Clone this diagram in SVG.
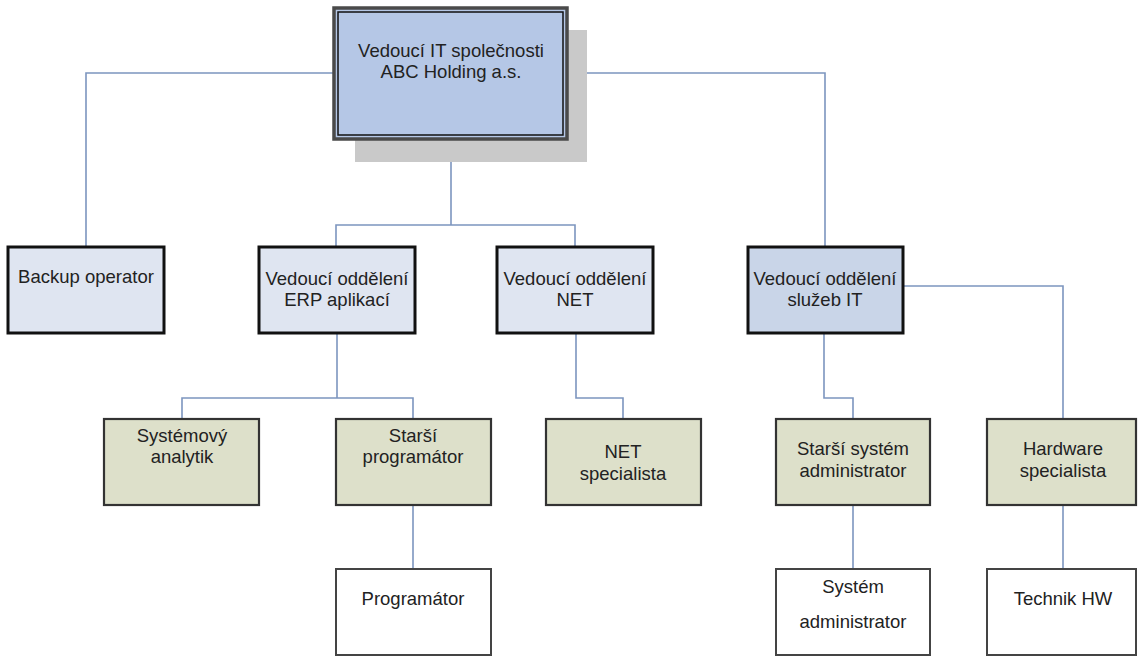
<svg xmlns="http://www.w3.org/2000/svg" width="1139" height="657" viewBox="0 0 1139 657">
  <style>
    .link { fill: none; stroke: #7c95bf; stroke-width: 1.6; }
    .lvl1 { stroke: #111; stroke-width: 3; }
    .lvl2 { fill: #dde0ca; stroke: #333; stroke-width: 2.2; }
    .lvl3 { fill: #ffffff; stroke: #444; stroke-width: 2; }
    .dept { fill: #dfe5f1; }
    .svc { fill: #c9d5e8; }
    text { font-family: "Liberation Sans", Arial, sans-serif; font-size: 18.5px; fill: #222; text-anchor: middle; }
  </style>
  <rect width="1139" height="657" fill="#ffffff"/>

  <!-- connectors -->
  <g id="connectors">
    <polyline class="link" points="334,73 86,73 86,247"/>
    <polyline class="link" points="567,73 825,73 825,247"/>
    <polyline class="link" points="451,139 451,225"/>
    <polyline class="link" points="336,247 336,225 575,225 575,247"/>
    <polyline class="link" points="903,286 1063,286 1063,419"/>
    <polyline class="link" points="337,333 337,398"/>
    <polyline class="link" points="182,419 182,398 413,398 413,419"/>
    <polyline class="link" points="576,333 576,398 623,398 623,419"/>
    <polyline class="link" points="824,333 824,398 853,398 853,419"/>
    <polyline class="link" points="413,505 413,569"/>
    <polyline class="link" points="853,505 853,569"/>
    <polyline class="link" points="1063,505 1063,569"/>
  </g>

  <!-- head of IT with drop shadow and double frame -->
  <g id="head">
    <rect x="355" y="30" width="232" height="132" fill="#c9c9c9"/>
    <rect x="334" y="8" width="233" height="131" fill="#b5c7e6" stroke="#4a4a4a" stroke-width="3.5"/>
    <rect x="338" y="12" width="225" height="123" fill="none" stroke="#111" stroke-width="1.5"/>
    <text x="451" y="57">Vedoucí IT společnosti<tspan x="451" y="78">ABC Holding a.s.</tspan></text>
  </g>

  <!-- first level -->
  <g id="backup">
    <rect class="lvl1 dept" x="8" y="247" width="156" height="86"/>
    <text x="86" y="283">Backup operator</text>
  </g>
  <g id="erp">
    <rect class="lvl1 dept" x="259" y="247" width="156" height="86"/>
    <text x="337" y="285">Vedoucí oddělení<tspan x="337" y="306">ERP aplikací</tspan></text>
  </g>
  <g id="net">
    <rect class="lvl1 dept" x="497" y="247" width="156" height="86"/>
    <text x="575" y="285">Vedoucí oddělení<tspan x="575" y="306">NET</tspan></text>
  </g>
  <g id="sluzby">
    <rect class="lvl1 svc" x="748" y="247" width="155" height="86"/>
    <text x="825" y="285">Vedoucí oddělení<tspan x="825" y="306">služeb IT</tspan></text>
  </g>

  <!-- second level -->
  <g id="analytik">
    <rect class="lvl2" x="104" y="419" width="155" height="86"/>
    <text x="182" y="442">Systémový<tspan x="182" y="463">analytik</tspan></text>
  </g>
  <g id="starsi-programator">
    <rect class="lvl2" x="336" y="419" width="155" height="86"/>
    <text x="413" y="442">Starší<tspan x="413" y="463">programátor</tspan></text>
  </g>
  <g id="net-specialista">
    <rect class="lvl2" x="546" y="419" width="155" height="86"/>
    <text x="623" y="458">NET<tspan x="623" y="480">specialista</tspan></text>
  </g>
  <g id="starsi-admin">
    <rect class="lvl2" x="776" y="419" width="154" height="86"/>
    <text x="853" y="455">Starší systém<tspan x="853" y="477">administrator</tspan></text>
  </g>
  <g id="hardware">
    <rect class="lvl2" x="987" y="419" width="149" height="86"/>
    <text x="1063" y="455">Hardware<tspan x="1063" y="477">specialista</tspan></text>
  </g>

  <!-- third level -->
  <g id="programator">
    <rect class="lvl3" x="336" y="569" width="155" height="86"/>
    <text x="413" y="605">Programátor</text>
  </g>
  <g id="system-admin">
    <rect class="lvl3" x="776" y="569" width="154" height="86"/>
    <text x="853" y="593">Systém<tspan x="853" y="628">administrator</tspan></text>
  </g>
  <g id="technik">
    <rect class="lvl3" x="987" y="569" width="149" height="86"/>
    <text x="1063" y="605">Technik HW</text>
  </g>
</svg>
